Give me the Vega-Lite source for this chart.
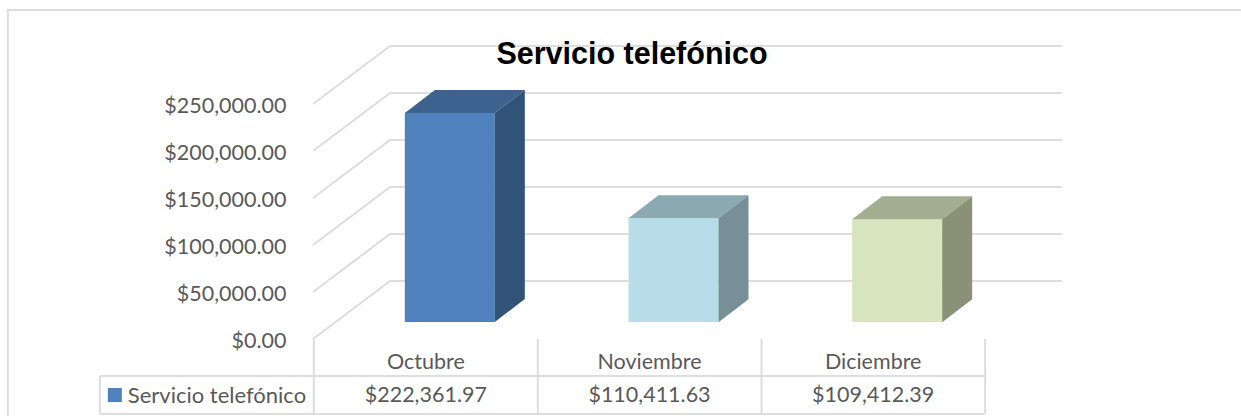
{
"$schema":"https://vega.github.io/schema/vega-lite/v6.json",
"width":672,"height":235,
"autosize":{"type":"none"},
"padding":{"left":390,"top":46,"right":179,"bottom":135},
"background":"white",
"view":{"stroke":null},
"title":{"text":"Servicio telefónico","font":"Liberation Sans","fontWeight":"bold","fontSize":30.5,"color":"#000000","anchor":"middle","frame":"group","dx":-94,"dy":64,"offset":0},
"datasets":{
"meses":[
{"mes":"Octubre","gasto":222361.97,"etiqueta":"$222,361.97"},
{"mes":"Noviembre","gasto":110411.63,"etiqueta":"$110,411.63"},
{"mes":"Diciembre","gasto":109412.39,"etiqueta":"$109,412.39"}],
"ticks":[{"v":0},{"v":50000},{"v":100000},{"v":150000},{"v":200000},{"v":250000}],
"serie":[{"mes":"Octubre","serie":"Servicio telefónico"}]
},
"resolve":{"scale":{"color":"independent","shape":"independent"}},
"layer":[
{"data":{"name":"ticks"},
 "mark":{"type":"rule","stroke":"#DDDDDD","strokeWidth":2},
 "encoding":{"y":{"field":"v","type":"quantitative","scale":{"domain":[0,250000],"nice":false,"zero":false},
   "axis":{"title":null,"domain":false,"ticks":false,"grid":false,"values":[0,50000,100000,150000,200000,250000],"format":"$,.2f","labelFont":"Lato","labelFontSize":21.5,"labelColor":"#595959","labelPadding":104,"labelOffset":60}}}},
{"data":{"name":"ticks"},
 "mark":{"type":"point","filled":false,"size":4,"stroke":"#DDDDDD","strokeWidth":2,"opacity":1,"shape":"M-336,0 L-413,58"},
 "encoding":{"y":{"field":"v","type":"quantitative","scale":{"domain":[0,250000],"nice":false,"zero":false}}}},
{"data":{"name":"serie"},
 "mark":{"type":"point","filled":false,"size":4,"stroke":"#DDDDDD","strokeWidth":2,"opacity":1,"shape":"M-112,58 L-112,133 M-326,95 L559,95 M-326,133 L559,133 M-326,95 L-326,133 M-418,135 L-418,-271 L815,-271"},
 "encoding":{"x":{"field":"mes","type":"nominal","scale":{"domain":["Octubre","Noviembre","Diciembre"],"range":[-76,595],"paddingInner":0,"paddingOuter":0},"axis":null},"y":{"datum":0,"type":"quantitative","scale":{"domain":[0,250000],"nice":false,"zero":false}}}},
{"data":{"name":"meses"},
 "mark":{"type":"point","filled":false,"size":4,"stroke":"#DDDDDD","strokeWidth":2,"opacity":1,"shape":"M112,58 L112,133"},
 "encoding":{"x":{"field":"mes","type":"nominal","axis":null},"y":{"datum":0,"type":"quantitative","scale":{"domain":[0,250000],"nice":false,"zero":false}}}},
{"data":{"name":"meses"},
 "mark":{"type":"bar","size":90,"xOffset":24,"x2Offset":24,"yOffset":41,"y2Offset":41},
 "encoding":{"x":{"field":"mes","type":"nominal","axis":null},
   "y":{"field":"gasto","type":"quantitative","scale":{"domain":[0,250000],"nice":false,"zero":false}},
   "color":{"field":"mes","type":"nominal","legend":null,"scale":{"domain":["Octubre","Noviembre","Diciembre"],"range":["#4F81BD","#B7DEE8","#D7E4BD"]}}}},
{"data":{"name":"meses"},
 "mark":{"type":"point","filled":true,"size":4,"opacity":1,"xOffset":24,"yOffset":41,"shape":"M-45,0 L-15,-23 L75,-23 L45,0 Z"},
 "encoding":{"x":{"field":"mes","type":"nominal","axis":null},
   "y":{"field":"gasto","type":"quantitative","scale":{"domain":[0,250000],"nice":false,"zero":false}},
   "color":{"field":"mes","type":"nominal","legend":null,"scale":{"domain":["Octubre","Noviembre","Diciembre"],"range":["#3E6290","#8BA9B1","#A3AD8F"]}}}},
{"data":{"name":"meses"},
 "mark":{"type":"point","filled":true,"size":4,"opacity":1,"xOffset":24,"yOffset":41},
 "encoding":{"x":{"field":"mes","type":"nominal","axis":null},
   "y":{"field":"gasto","type":"quantitative","scale":{"domain":[0,250000],"nice":false,"zero":false}},
   "shape":{"field":"mes","type":"nominal","legend":null,"scale":{"domain":["Octubre","Noviembre","Diciembre"],"range":["M45,0 L75,-23 L75,186 L45,209 Z","M45,0 L75,-23 L75,81 L45,104 Z","M45,0 L75,-23 L75,80 L45,103 Z"]}},
   "color":{"field":"mes","type":"nominal","legend":null,"scale":{"domain":["Octubre","Noviembre","Diciembre"],"range":["#325378","#778F96","#8A9177"]}}}},
{"data":{"name":"meses"},
 "mark":{"type":"text","font":"Lato","fontSize":21.5,"color":"#595959","yOffset":82},
 "encoding":{"x":{"field":"mes","type":"nominal","axis":null},"y":{"datum":0,"type":"quantitative","scale":{"domain":[0,250000],"nice":false,"zero":false}},"text":{"field":"mes"}}},
{"data":{"name":"meses"},
 "mark":{"type":"text","font":"Lato","fontSize":21.5,"color":"#595959","yOffset":115},
 "encoding":{"x":{"field":"mes","type":"nominal","axis":null},"y":{"datum":0,"type":"quantitative","scale":{"domain":[0,250000],"nice":false,"zero":false}},"text":{"field":"etiqueta"}}},
{"data":{"name":"serie"},
 "mark":{"type":"text","font":"Lato","fontSize":22,"color":"#595959","align":"left","xOffset":-298,"yOffset":115},
 "encoding":{"x":{"field":"mes","type":"nominal","axis":null},"y":{"datum":0,"type":"quantitative","scale":{"domain":[0,250000],"nice":false,"zero":false}},"text":{"field":"serie"}}},
{"data":{"name":"serie"},
 "mark":{"type":"point","filled":true,"shape":"square","size":196,"opacity":1,"color":"#4F81BD","xOffset":-311,"yOffset":114},
 "encoding":{"x":{"field":"mes","type":"nominal","axis":null},"y":{"datum":0,"type":"quantitative","scale":{"domain":[0,250000],"nice":false,"zero":false}}}}
]
}
